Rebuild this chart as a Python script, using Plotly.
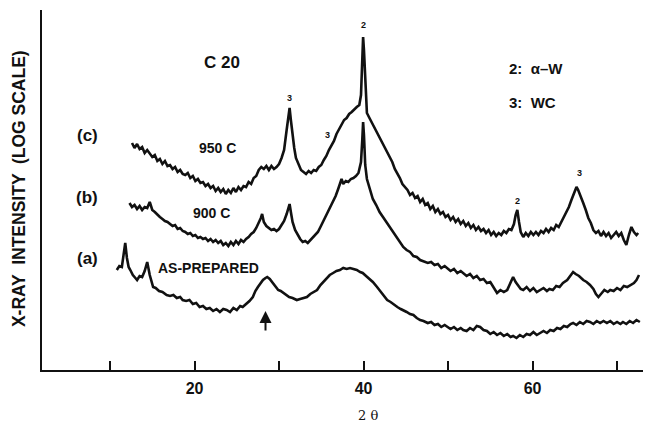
import plotly.graph_objects as go

# ---- data (2θ in degrees, intensity in arbitrary log-scale units) ----
c_x = [12.6,12.9,13.2,13.5,13.8,14.1,14.4,14.7,15.0,15.3,15.6,15.9,16.2,16.5,16.8,17.1,17.4,17.7,18.0,18.3,
       18.6,18.9,19.2,19.5,19.8,20.1,20.4,20.7,21.0,21.3,21.6,21.9,22.2,22.5,22.8,23.1,23.4,23.7,24.0,24.3,
       24.6,24.9,25.2,25.5,25.8,26.1,26.4,26.7,27.0,27.3,27.6,27.9,28.2,28.5,28.8,29.1,29.4,29.7,30.0,30.3,
       30.6,30.9,31.1,31.25,31.4,31.6,31.8,32.0,32.3,32.6,32.9,33.2,33.5,33.8,34.1,34.4,34.7,35.0,35.3,35.6,
       35.9,36.2,36.5,36.8,37.1,37.4,37.7,38.0,38.3,38.6,38.9,39.2,39.5,39.7,39.85,39.95,40.05,40.2,40.4,40.7,
       41.0,41.3,41.6,41.9,42.2,42.5,42.8,43.1,43.4,43.7,44.0,44.3,44.6,44.9,45.2,45.5,45.8,46.1,46.4,46.7,
       47.0,47.3,47.6,47.9,48.2,48.5,48.8,49.1,49.4,49.7,50.0,50.3,50.6,50.9,51.2,51.5,51.8,52.1,52.4,52.7,
       53.0,53.3,53.6,53.9,54.2,54.5,54.8,55.1,55.4,55.7,56.0,56.3,56.6,56.9,57.2,57.5,57.8,58.0,58.2,58.4,
       58.6,58.9,59.2,59.5,59.8,60.1,60.4,60.7,61.0,61.3,61.6,61.9,62.2,62.5,62.8,63.1,63.4,63.7,64.0,64.3,
       64.6,64.9,65.2,65.4,65.7,66.0,66.3,66.6,66.9,67.2,67.5,67.8,68.1,68.4,68.7,69.0,69.3,69.6,69.9,70.2,
       70.5,70.8,71.1,71.4,71.7,72.0,72.3,72.5]
c_y = [227,222,226,221,223,217,220,216,213,215,209,211,206,209,204,205,201,203,198,200,
       196,195,197,192,194,189,191,187,188,184,186,182,184,179,182,178,181,176,180,177,
       182,178,183,180,184,183,188,186,192,194,200,203,201,204,200,204,201,203,206,212,
       220,240,255,262,250,235,222,212,205,200,198,196,199,197,200,199,203,205,210,214,
       220,224,229,236,241,245,250,252,256,258,261,263,265,275,310,333,320,285,257,252,
       247,243,237,233,228,222,217,212,208,201,197,192,186,183,180,175,177,172,174,168,
       171,165,167,161,164,158,161,156,158,153,155,150,153,148,151,146,149,144,147,142,
       145,140,143,139,141,137,140,135,138,134,137,135,139,137,141,140,146,155,160,148,
       138,133,137,134,138,135,138,135,139,137,141,138,142,140,145,143,148,152,157,163,
       170,176,183,180,174,167,160,152,147,140,137,139,134,138,134,137,132,135,138,134,
       137,130,125,135,143,138,135,137]

b_x = [12.3,12.6,12.9,13.2,13.5,13.8,14.1,14.4,14.7,15.0,15.3,15.6,15.9,16.2,16.5,16.8,17.1,17.4,17.7,18.0,
       18.3,18.6,18.9,19.2,19.5,19.8,20.1,20.4,20.7,21.0,21.3,21.6,21.9,22.2,22.5,22.8,23.1,23.4,23.7,24.0,
       24.3,24.6,24.9,25.2,25.5,25.8,26.1,26.4,26.7,27.0,27.3,27.6,27.85,28.0,28.2,28.5,28.8,29.1,29.4,29.7,
       30.0,30.3,30.6,30.9,31.1,31.25,31.4,31.6,31.9,32.2,32.5,32.8,33.1,33.4,33.7,34.0,34.3,34.6,34.9,35.2,
       35.5,35.8,36.1,36.4,36.7,37.0,37.2,37.4,37.6,37.9,38.2,38.5,38.8,39.1,39.4,39.7,39.85,39.95,40.05,40.2,
       40.4,40.7,41.1,41.5,41.9,42.3,42.7,43.1,43.5,43.9,44.3,44.7,45.1,45.5,45.9,46.3,46.7,47.1,47.6,48.0,
       48.4,48.8,49.2,49.6,49.9,50.3,50.7,51.1,51.5,51.8,52.2,52.6,53.0,53.4,53.8,54.2,54.6,55.0,55.4,55.8,
       56.2,56.6,57.0,57.4,57.7,58.0,58.3,58.6,58.9,59.3,59.7,60.1,60.5,60.9,61.3,61.7,62.0,62.4,62.8,63.2,
       63.6,64.1,64.5,64.8,65.1,65.5,66.0,66.4,66.8,67.2,67.5,67.8,68.1,68.5,68.9,69.2,69.6,70.0,70.4,70.8,
       71.2,71.6,72.0,72.3,72.6]
b_y = [167,163,165,161,164,160,163,162,168,160,158,155,153,151,149,148,146,144,145,141,
       142,139,138,136,137,134,135,132,133,131,132,129,131,128,130,127,129,125,127,124,
       128,125,129,126,130,128,131,133,136,138,142,147,152,156,148,144,142,140,141,139,
       141,145,149,156,163,166,158,148,140,135,131,128,129,127,130,133,135,138,143,148,
       153,158,163,168,174,181,187,191,186,189,188,191,192,194,197,208,230,248,235,205,
       191,182,171,165,158,153,148,142,138,133,127,123,120,118,114,113,110,109,107,108,
       105,106,102,104,102,99,101,97,99,97,94,96,92,94,90,91,87,88,83,77,
       80,78,80,87,93,88,84,81,80,83,79,82,78,80,82,79,81,80,84,83,
       87,90,95,98,96,94,90,88,85,81,76,73,76,80,78,80,79,82,80,84,
       83,85,87,90,95]

a_x = [10.8,11.1,11.4,11.6,11.8,12.0,12.2,12.4,12.7,13.0,13.2,13.5,13.8,14.1,14.4,14.7,15.1,15.4,15.8,16.2,
       16.7,17.1,17.5,17.9,18.3,18.6,19.0,19.4,19.8,20.2,20.6,21.0,21.4,21.8,22.2,22.6,23.0,23.4,23.8,24.2,
       24.6,25.0,25.4,25.7,26.1,26.5,26.9,27.2,27.5,27.8,28.1,28.4,28.6,28.9,29.3,29.6,29.9,30.2,30.5,30.8,
       31.2,31.6,32.1,32.5,32.9,33.3,33.7,34.1,34.5,34.9,35.3,35.7,36.0,36.4,36.8,37.2,37.6,38.0,38.4,38.8,
       39.2,39.6,39.9,40.3,40.7,41.1,41.6,42.0,42.4,42.8,43.2,43.6,44.0,44.4,44.7,45.1,45.5,45.9,46.3,46.7,
       47.1,47.6,48.0,48.4,48.8,49.2,49.6,49.9,50.3,50.7,51.1,51.5,51.8,52.2,52.6,53.0,53.4,53.8,54.2,54.6,
       55.0,55.4,55.8,56.2,56.6,57.0,57.4,57.7,58.1,58.5,58.9,59.3,59.7,60.1,60.5,60.9,61.3,61.7,62.1,62.5,
       62.9,63.3,63.7,64.1,64.5,64.8,65.2,65.6,66.0,66.4,66.8,67.2,67.6,68.0,68.4,68.8,69.2,69.6,70.0,70.4,
       70.7,71.1,71.5,71.9,72.3,72.7]
a_y = [100,104,103,115,127,112,103,100,95,92,90,94,93,99,108,95,83,82,79,78,
       75,74,75,72,73,70,69,70,66,67,63,64,61,62,59,61,58,61,60,58,
       62,60,64,63,66,69,73,79,83,87,90,92,93,91,87,84,80,79,77,75,
       73,72,70,71,72,73,76,78,80,85,89,92,95,97,99,100,102,101,102,101,
       100,98,97,94,91,88,83,79,75,70,68,65,63,61,60,58,56,55,52,50,
       49,47,48,45,46,43,45,43,41,43,40,42,40,39,42,40,44,43,40,39,
       36,38,35,37,34,36,33,34,32,35,33,36,35,38,35,37,39,37,40,39,
       42,41,44,43,46,47,45,48,46,49,48,46,49,47,49,47,49,46,48,46,
       48,46,49,47,50,48]

x_tick_vals = [10, 20, 30, 40, 50, 60, 70]
x_tick_text = ["", "20", "", "40", "", "60", ""]

curve_labels = ["(a)", "(b)", "(c)"]
temp_labels = ["AS-PREPARED", "900 C", "950 C"]
peak_labels = ["3", "3", "2", "2", "3"]
peak_pos_x = [31.25, 35.7, 39.95, 58.2, 65.6]
peak_pos_y = [272, 235, 345, 169, 197]

FONT = "Liberation Sans, Arial, sans-serif"
INK = "#111111"

fig = go.Figure()
for xs, ys in [(a_x, a_y), (b_x, b_y), (c_x, c_y)]:
    fig.add_trace(go.Scatter(x=xs, y=ys, mode="lines",
                             line=dict(color=INK, width=2.6), showlegend=False,
                             hoverinfo="skip"))

ann = []
for lab, yy in zip(curve_labels, [112, 173, 235]):
    ann.append(dict(x=7.3, y=yy, text="<b>%s</b>" % lab, showarrow=False,
                    font=dict(family=FONT, size=17, color=INK)))
for lab, xx, yy in zip(temp_labels, [21.7, 22.0, 22.7], [102, 157, 222]):
    ann.append(dict(x=xx, y=yy, text="<b>%s</b>" % lab, showarrow=False,
                    font=dict(family=FONT, size=14, color=INK)))
for lab, xx, yy in zip(peak_labels, peak_pos_x, peak_pos_y):
    ann.append(dict(x=xx, y=yy, text="<b>%s</b>" % lab, showarrow=False,
                    font=dict(family=FONT, size=9, color=INK)))
ann.append(dict(x=23.25, y=308, text="<b>C 20</b>", showarrow=False,
                font=dict(family=FONT, size=17, color=INK)))
ann.append(dict(x=57.0, y=302, text="<b>2:  α–W</b>", showarrow=False, xanchor="left",
                font=dict(family=FONT, size=15, color=INK)))
ann.append(dict(x=57.0, y=268, text="<b>3:  WC</b>", showarrow=False, xanchor="left",
                font=dict(family=FONT, size=15, color=INK)))
ann.append(dict(x=28.4, y=59, ax=28.4, ay=38, axref="x", ayref="y", xref="x", yref="y",
                text="", showarrow=True, arrowhead=2, arrowsize=1.2, arrowwidth=2,
                arrowcolor=INK))
ann.append(dict(xref="paper", yref="paper", x=-0.038, y=0.505, xanchor="center", yanchor="middle",
                text="<b>X-RAY  INTENSITY  (LOG SCALE)</b>", textangle=-90, showarrow=False,
                font=dict(family=FONT, size=17.5, color=INK)))
ann.append(dict(xref="paper", yref="paper", x=0.537, y=-0.127, xanchor="center", yanchor="middle",
                text="2 θ", showarrow=False,
                font=dict(family="DejaVu Serif, serif", size=13, color=INK)))

# the page adds an 8px body margin, so the figure is 8px smaller and offset accordingly
fig.update_layout(
    width=643, height=417,
    margin=dict(l=34, r=1, t=2, b=55),
    paper_bgcolor="white", plot_bgcolor="white",
    annotations=ann,
    xaxis=dict(range=[1.95, 73.9], tickvals=x_tick_vals,
               ticktext=["<b>%s</b>" % t if t else "" for t in x_tick_text],
               ticks="inside", ticklen=9, tickwidth=2, tickcolor=INK,
               showline=True, linecolor=INK, linewidth=2, showgrid=False, zeroline=False,
               ticklabelstandoff=3,
               tickfont=dict(family=FONT, size=16, color=INK)),
    yaxis=dict(range=[0, 360], showticklabels=False, ticks="", showgrid=False,
               zeroline=False, showline=True, linecolor=INK, linewidth=2),
)
fig.write_html("out.html")
